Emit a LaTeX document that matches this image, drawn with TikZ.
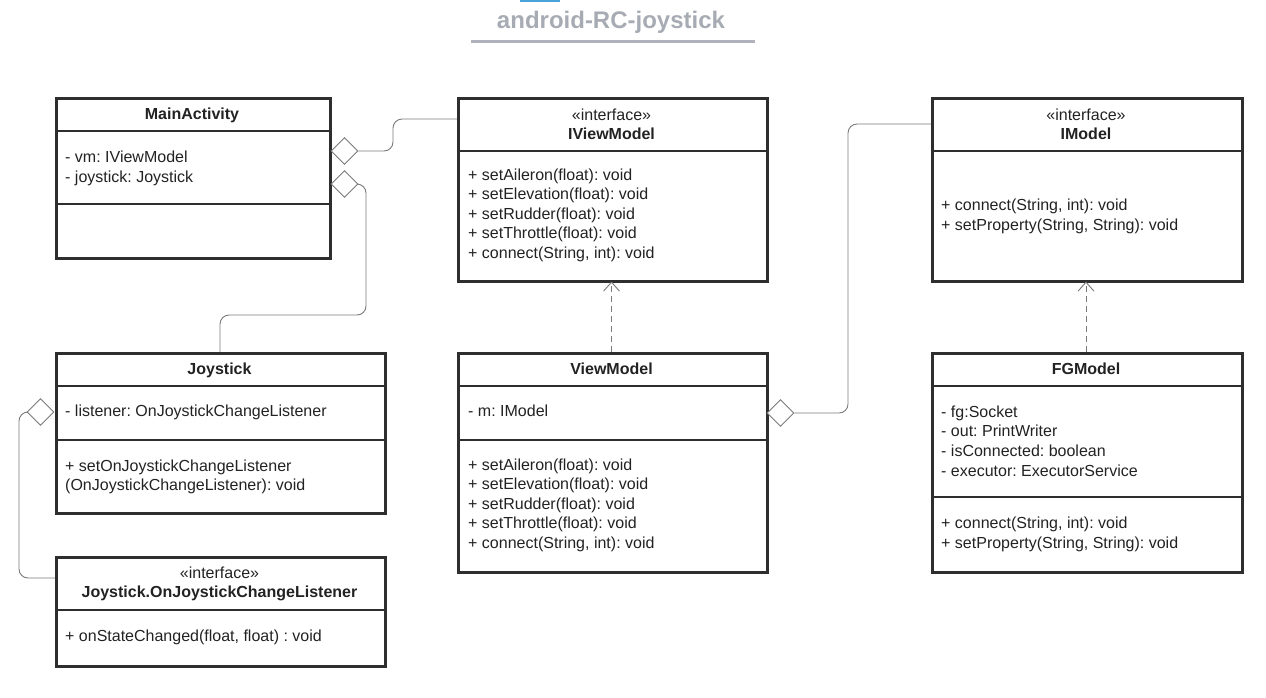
\documentclass[tikz,border=0pt]{standalone}
\usepackage{fontspec}
\setmainfont{Liberation Sans}
\frenchspacing
\usetikzlibrary{shapes.geometric,arrows.meta}
\definecolor{boxline}{HTML}{2E2E2E}
\definecolor{conline}{HTML}{7A7A7A}
\definecolor{titlegray}{HTML}{A7ABB3}
\definecolor{txt}{HTML}{222222}
\definecolor{bluefrag}{HTML}{4AA3D8}
\tikzset{
  classbox/.style={draw=boxline, line width=2.6pt, fill=none, inner sep=0, anchor=north west},
  divider/.style={draw=boxline, line width=2.6pt},
  lbl/.style={anchor=base west, inner sep=0, text=txt, font=\fontsize{16}{18}\selectfont},
  hdr/.style={anchor=base, inner sep=0, text=txt, font=\fontsize{16}{18}\selectfont\bfseries},
  stereo/.style={anchor=base, inner sep=0, text=txt, font=\fontsize{16}{18}\selectfont},
  diam/.style={draw=conline, line width=0.9pt, shape=diamond, aspect=1, inner sep=0, minimum width=27pt, minimum height=27pt, fill=white},
  conn/.style={draw=conline, line width=0.9pt, rounded corners=9pt},
  realize/.style={draw=conline, line width=0.9pt, dash pattern=on 6pt off 4pt, -{Straight Barb[length=9pt,width=16pt,line width=0.9pt]}},
}
\begin{document}
\begin{tikzpicture}[x=1pt,y=1pt]
\useasboundingbox (0,0) rectangle (1266,-697);
% title
\draw[line width=2pt, draw=bluefrag] (520,-0.5) -- (560,-0.5);
\node[inner sep=0, anchor=base, text=titlegray, font=\fontsize{24}{26}\selectfont\bfseries] (title) at (611,-28.5) {android-RC-joystick};
\draw[line width=3pt, draw=titlegray!90] (471,-41) -- (755,-41);

% MainActivity
\node[classbox, minimum width=274pt, minimum height=160pt] (ma) at (55,-97) {};
\draw[divider] (55,-131) -- (329,-131);
\draw[divider] (55,-204) -- (329,-204);
\node[hdr] (maT) at (192,-119) {MainActivity};
\node[lbl] (ma1) at (65,-162) {- vm: IViewModel};
\node[lbl] (ma2) at (65,-182) {- joystick: Joystick};

% IViewModel
\node[classbox, minimum width=309pt, minimum height=183pt] (ivm) at (457,-97) {};
\draw[divider] (457,-151) -- (766,-151);
\node[stereo] (ivmS) at (611.5,-120) {«interface»};
\node[hdr] (ivmT) at (611.5,-139) {IViewModel};
\node[lbl] (ivm1) at (468,-180) {+ setAileron(float): void};
\node[lbl] (ivm2) at (468,-199.5) {+ setElevation(float): void};
\node[lbl] (ivm3) at (468,-219) {+ setRudder(float): void};
\node[lbl] (ivm4) at (468,-238.5) {+ setThrottle(float): void};
\node[lbl] (ivm5) at (468,-258) {+ connect(String, int): void};

% IModel
\node[classbox, minimum width=310pt, minimum height=183pt] (im) at (931,-97) {};
\draw[divider] (931,-151) -- (1241,-151);
\node[stereo] (imS) at (1086,-120) {«interface»};
\node[hdr] (imT) at (1086,-139) {IModel};
\node[lbl] (im1) at (941,-210) {+ connect(String, int): void};
\node[lbl] (im2) at (941,-230) {+ setProperty(String, String): void};

% Joystick
\node[classbox, minimum width=329pt, minimum height=160pt] (js) at (55,-352) {};
\draw[divider] (55,-386) -- (384,-386);
\draw[divider] (55,-440) -- (384,-440);
\node[hdr] (jsT) at (219.5,-374) {Joystick};
\node[lbl] (js1) at (65,-416) {- listener: OnJoystickChangeListener};
\node[lbl] (js2) at (65,-471) {+ setOnJoystickChangeListener};
\node[lbl] (js3) at (65,-490) {(OnJoystickChangeListener): void};

% ViewModel
\node[classbox, minimum width=309pt, minimum height=219pt] (vm) at (457,-352) {};
\draw[divider] (457,-386) -- (766,-386);
\draw[divider] (457,-440) -- (766,-440);
\node[hdr] (vmT) at (611.5,-374) {ViewModel};
\node[lbl] (vm0) at (468,-416) {- m: IModel};
\node[lbl] (vm1) at (468,-470) {+ setAileron(float): void};
\node[lbl] (vm2) at (468,-489.5) {+ setElevation(float): void};
\node[lbl] (vm3) at (468,-509) {+ setRudder(float): void};
\node[lbl] (vm4) at (468,-528.5) {+ setThrottle(float): void};
\node[lbl] (vm5) at (468,-548) {+ connect(String, int): void};

% FGModel
\node[classbox, minimum width=310pt, minimum height=219pt] (fg) at (931,-352) {};
\draw[divider] (931,-386) -- (1241,-386);
\draw[divider] (931,-497) -- (1241,-497);
\node[hdr] (fgT) at (1086,-374) {FGModel};
\node[lbl] (fg1) at (941,-417) {- fg:Socket};
\node[lbl] (fg2) at (941,-436) {- out: PrintWriter};
\node[lbl] (fg3) at (941,-456) {- isConnected: boolean};
\node[lbl] (fg4) at (941,-476) {- executor: ExecutorService};
\node[lbl] (fg5) at (941,-528) {+ connect(String, int): void};
\node[lbl] (fg6) at (941,-548) {+ setProperty(String, String): void};

% Listener
\node[classbox, minimum width=329pt, minimum height=109pt] (ls) at (55,-556) {};
\draw[divider] (55,-610) -- (384,-610);
\node[stereo] (lsS) at (219.5,-578) {«interface»};
\node[hdr] (lsT) at (219.5,-597) {Joystick.OnJoystickChangeListener};
\node[lbl] (ls1) at (65,-641) {+ onStateChanged(float, float) : void};

% connectors
\node[diam] (d1) at (344.5,-151) {};
\node[diam] (d2) at (344.5,-184) {};
\node[diam] (d3) at (40.5,-412) {};
\node[diam] (d4) at (780.5,-413) {};

\coordinate (ivmL) at (457,-119);
\draw[conn] (d1.east) -- (393,-151) -- (393,-119) -- (ivmL);

\coordinate (jsTop) at (220,-352);
\draw[conn] (d2.east) -- (366,-184) -- (366,-315) -- (220,-315) -- (jsTop);

\coordinate (lsL) at (55,-578);
\draw[conn] (d3.west) -- (19,-412) -- (19,-578) -- (lsL);

\coordinate (imL) at (931,-124);
\draw[conn] (d4.east) -- (848,-413) -- (848,-124) -- (imL);

\coordinate (vmTop) at (611.5,-352);
\coordinate (ivmBot) at (611.5,-281.5);
\draw[realize] (vmTop) -- (ivmBot);
\coordinate (fgTop) at (1086,-352);
\coordinate (imBot) at (1086,-281.5);
\draw[realize] (fgTop) -- (imBot);
\end{tikzpicture}
\end{document}
